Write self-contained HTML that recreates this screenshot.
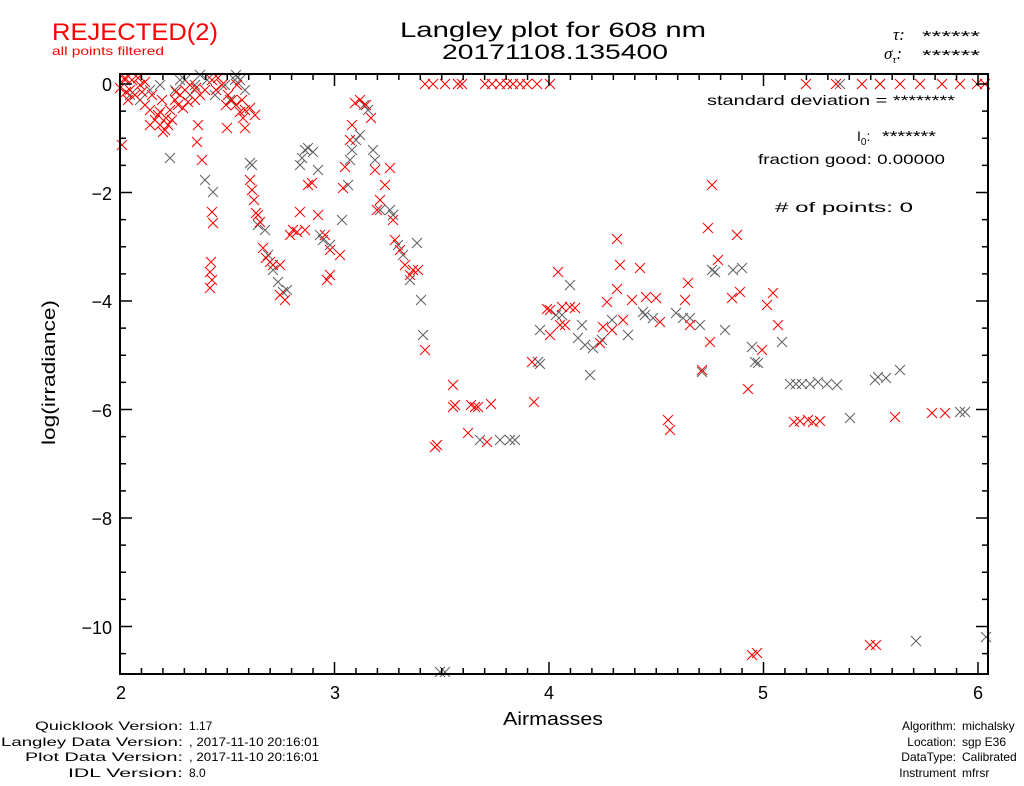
<!DOCTYPE html>
<html><head><meta charset="utf-8"><style>
html,body{margin:0;padding:0;background:#fff;}
svg{display:block;font-family:"Liberation Sans",sans-serif;}
</style></head><body>
<svg id="s" width="1024" height="786" viewBox="0 0 1024 786" xmlns="http://www.w3.org/2000/svg">
<rect width="1024" height="786" fill="#fff"/>
<text x="52" y="40" font-size="24" fill="#f00" textLength="166" lengthAdjust="spacingAndGlyphs">REJECTED(2)</text>
<text x="52" y="55" font-size="12" fill="#f00" textLength="112" lengthAdjust="spacingAndGlyphs">all points filtered</text>
<text x="400" y="37" font-size="21" textLength="306" lengthAdjust="spacingAndGlyphs">Langley plot for 608 nm</text>
<text x="442" y="59" font-size="21" textLength="226" lengthAdjust="spacingAndGlyphs">20171108.135400</text>
<text x="893" y="40" font-size="17" font-style="italic" font-family="Liberation Serif,serif">τ:</text>
<text x="922" y="41" font-size="15" textLength="58" lengthAdjust="spacingAndGlyphs">******</text>
<text x="884" y="59" font-size="17" font-style="italic" font-family="Liberation Serif,serif">σ<tspan font-size="11" dy="4">τ</tspan><tspan dy="-4">:</tspan></text>
<text x="922" y="60" font-size="15" textLength="58" lengthAdjust="spacingAndGlyphs">******</text>
<text x="707" y="105" font-size="14" textLength="248" lengthAdjust="spacingAndGlyphs">standard deviation  = ********</text>
<text x="857" y="141" font-size="14">I<tspan font-size="10" dy="4">0</tspan><tspan dy="-4">:</tspan></text>
<text x="882" y="141" font-size="15" textLength="54" lengthAdjust="spacingAndGlyphs">*******</text>
<text x="758" y="164" font-size="14" textLength="187" lengthAdjust="spacingAndGlyphs">fraction good: 0.00000</text>
<text x="775" y="212" font-size="14" textLength="138" lengthAdjust="spacingAndGlyphs">#  of points:     0</text>
<g id="pts"></g>
<rect x="120" y="74" width="868" height="600" fill="none" stroke="#000" stroke-width="2"/>
<g id="ticks" stroke="#000" stroke-width="1.5"></g>
<g font-size="18" text-anchor="end">
<text x="112" y="91">0</text><text x="112" y="200">−2</text><text x="112" y="308">−4</text>
<text x="112" y="417">−6</text><text x="112" y="525">−8</text><text x="112" y="634">−10</text>
</g>
<g font-size="18" text-anchor="middle">
<text x="121" y="699">2</text><text x="335" y="699">3</text><text x="549" y="699">4</text>
<text x="763" y="699">5</text><text x="978" y="699">6</text>
</g>
<text x="503" y="725" font-size="18" textLength="100" lengthAdjust="spacingAndGlyphs">Airmasses</text>
<text transform="translate(55,445) rotate(-90)" font-size="18" textLength="145" lengthAdjust="spacingAndGlyphs">log(irradiance)</text>
<g font-size="12">
<text x="35" y="730" textLength="148" lengthAdjust="spacingAndGlyphs">Quicklook Version:</text>
<text x="1" y="746" textLength="182" lengthAdjust="spacingAndGlyphs">Langley Data Version:</text>
<text x="25" y="761" textLength="158" lengthAdjust="spacingAndGlyphs">Plot Data Version:</text>
<text x="68" y="777" textLength="115" lengthAdjust="spacingAndGlyphs">IDL Version:</text>
<text x="189" y="730">1.17</text>
<text x="189" y="746" textLength="130" lengthAdjust="spacingAndGlyphs">, 2017-11-10 20:16:01</text>
<text x="189" y="761" textLength="130" lengthAdjust="spacingAndGlyphs">, 2017-11-10 20:16:01</text>
<text x="189" y="777">8.0</text>
<g text-anchor="end">
<text x="956" y="730">Algorithm:</text>
<text x="956" y="746">Location:</text>
<text x="956" y="761">DataType:</text>
<text x="956" y="777">Instrument</text>
</g>
<text x="962" y="730">michalsky</text>
<text x="962" y="746">sgp E36</text>
<text x="962" y="761">Calibrated</text>
<text x="962" y="777">mfrsr</text>
</g>
<script>
var NS="http://www.w3.org/2000/svg";
var t=document.getElementById("ticks");
function ln(g,x1,y1,x2,y2,c){var l=document.createElementNS(NS,"line");l.setAttribute("x1",x1);l.setAttribute("y1",y1);l.setAttribute("x2",x2);l.setAttribute("y2",y2);if(c)l.setAttribute("stroke",c);g.appendChild(l);}
for(var i=0;i<=40;i++){var x=120+i*21.45;if(x>988)break;var L=(i%10==0)?12:6;ln(t,x,674,x,674-L);ln(t,x,74,x,74+L);}
for(var j=0;j<=21;j++){var y=84+j*27.125;if(y>674)break;var L=(j%4==0)?12:6;ln(t,120,y,120+L,y);ln(t,988,y,988-L,y);}
var g=document.getElementById("pts");
function X(x,y,c){var p=document.createElementNS(NS,"path");p.setAttribute("d","M"+(x-5)+" "+(y-5)+"L"+(x+5)+" "+(y+5)+"M"+(x+5)+" "+(y-5)+"L"+(x-5)+" "+(y+5));p.setAttribute("stroke",c);p.setAttribute("fill","none");p.setAttribute("stroke-width","1");g.appendChild(p);}
var gray=[[300,165],[302,158],[305,150],[308,148],[313,152],[318,170],[320,235],[323,240],[330,245],[342,220],[348,185],[350,160],[352,150],[356,140],[360,135],[364,105],[368,110],[373,150],[375,160],[380,210],[390,210],[393,215],[398,245],[403,255],[410,280],[417,243],[421,300],[423,335],[250,163],[252,165],[258,225],[265,230],[268,255],[273,270],[278,282],[283,292],[287,290],[205,180],[213,192],[200,75],[207,80],[235,80],[245,90],[236,75],[170,158],[440,672],[445,672],[510,440],[500,440],[515,440],[480,440],[538,362],[540,364],[540,330],[556,315],[562,315],[570,285],[578,338],[582,325],[585,345],[590,375],[593,348],[602,340],[612,320],[628,335],[643,312],[645,315],[653,318],[676,313],[683,318],[690,318],[700,325],[702,372],[712,270],[715,272],[725,330],[733,270],[742,268],[752,347],[755,362],[758,363],[782,342],[790,384],[796,384],[802,384],[810,384],[818,382],[827,384],[837,385],[850,418],[875,380],[878,377],[886,378],[900,370],[916,641],[960,412],[965,412],[986,637],[840,84],[880,84],
[130,95],[140,100],[150,90],[160,85],[175,90],[185,80],[195,85],[215,95],[225,85],[230,100],[190,95],[180,80],[240,80]];
var red=[[425,84],[433,84],[445,84],[458,84],[462,84],[485,84],[492,84],[500,84],[507,84],[513,84],[520,84],[527,84],[537,84],[550,84],[806,84],[836,84],[862,84],[880,84],[900,84],[920,84],[942,84],[960,84],[977,84],[985,84],
[122,145],[125,80],[130,90],[135,95],[140,85],[128,100],[145,105],[150,110],[155,120],[160,125],[165,130],[158,115],[170,110],[175,100],[180,95],[185,90],[190,85],[168,125],[172,120],[178,105],[183,108],[188,102],[195,100],[200,95],[205,90],[212,80],[218,78],[222,85],[228,95],[232,100],[236,105],[240,112],[245,110],[250,108],[255,115],[237,85],[242,100],[198,125],[197,142],[202,160],[163,132],[150,125],[125,78],[132,80],[138,78],[145,82],[152,95],[162,100],[120,88],[126,92],[142,92],[160,112],[166,118],[176,92],[196,88],[216,90],[226,105],[227,128],[243,118],[245,128],
[212,212],[213,223],[211,262],[210,272],[212,280],[210,288],
[250,180],[252,190],[254,200],[256,213],[258,215],[260,222],[263,248],[266,258],[270,262],[273,265],[280,265],[280,295],[285,300],[290,235],[293,230],[297,232],[300,212],[305,230],[308,185],[312,183],[318,215],[325,235],[330,250],[327,280],[330,275],[340,255],[343,188],[345,167],[350,140],[352,125],[355,103],[360,100],[366,105],[371,118],[375,170],[377,210],[380,200],[385,185],[390,168],[393,220],[395,240],[400,250],[405,265],[410,275],[413,270],[418,270],[425,350],
[435,447],[437,445],[453,385],[453,407],[455,405],[468,433],[471,405],[475,407],[478,407],[487,442],[491,404],[532,362],[534,402],[547,309],[550,310],[550,335],[558,272],[560,325],[562,307],[565,325],[570,307],[575,308],[600,343],[603,327],[607,302],[612,330],[617,239],[617,289],[620,265],[623,320],[632,300],[640,268],[646,297],[656,298],[660,322],[668,420],[670,430],[685,300],[688,283],[690,325],[702,370],[708,228],[710,342],[712,185],[718,260],[732,298],[737,235],[740,292],[748,389],[752,655],[757,653],[762,350],[767,305],[773,293],[778,325],[794,422],[800,421],[808,420],[813,422],[820,421],[870,645],[876,645],[895,417],[932,413],[945,413]];
gray.forEach(function(p){X(p[0],p[1],"#606060");});
red.forEach(function(p){X(p[0],p[1],"#ff0000");});
</script>
</svg>
</body></html>
